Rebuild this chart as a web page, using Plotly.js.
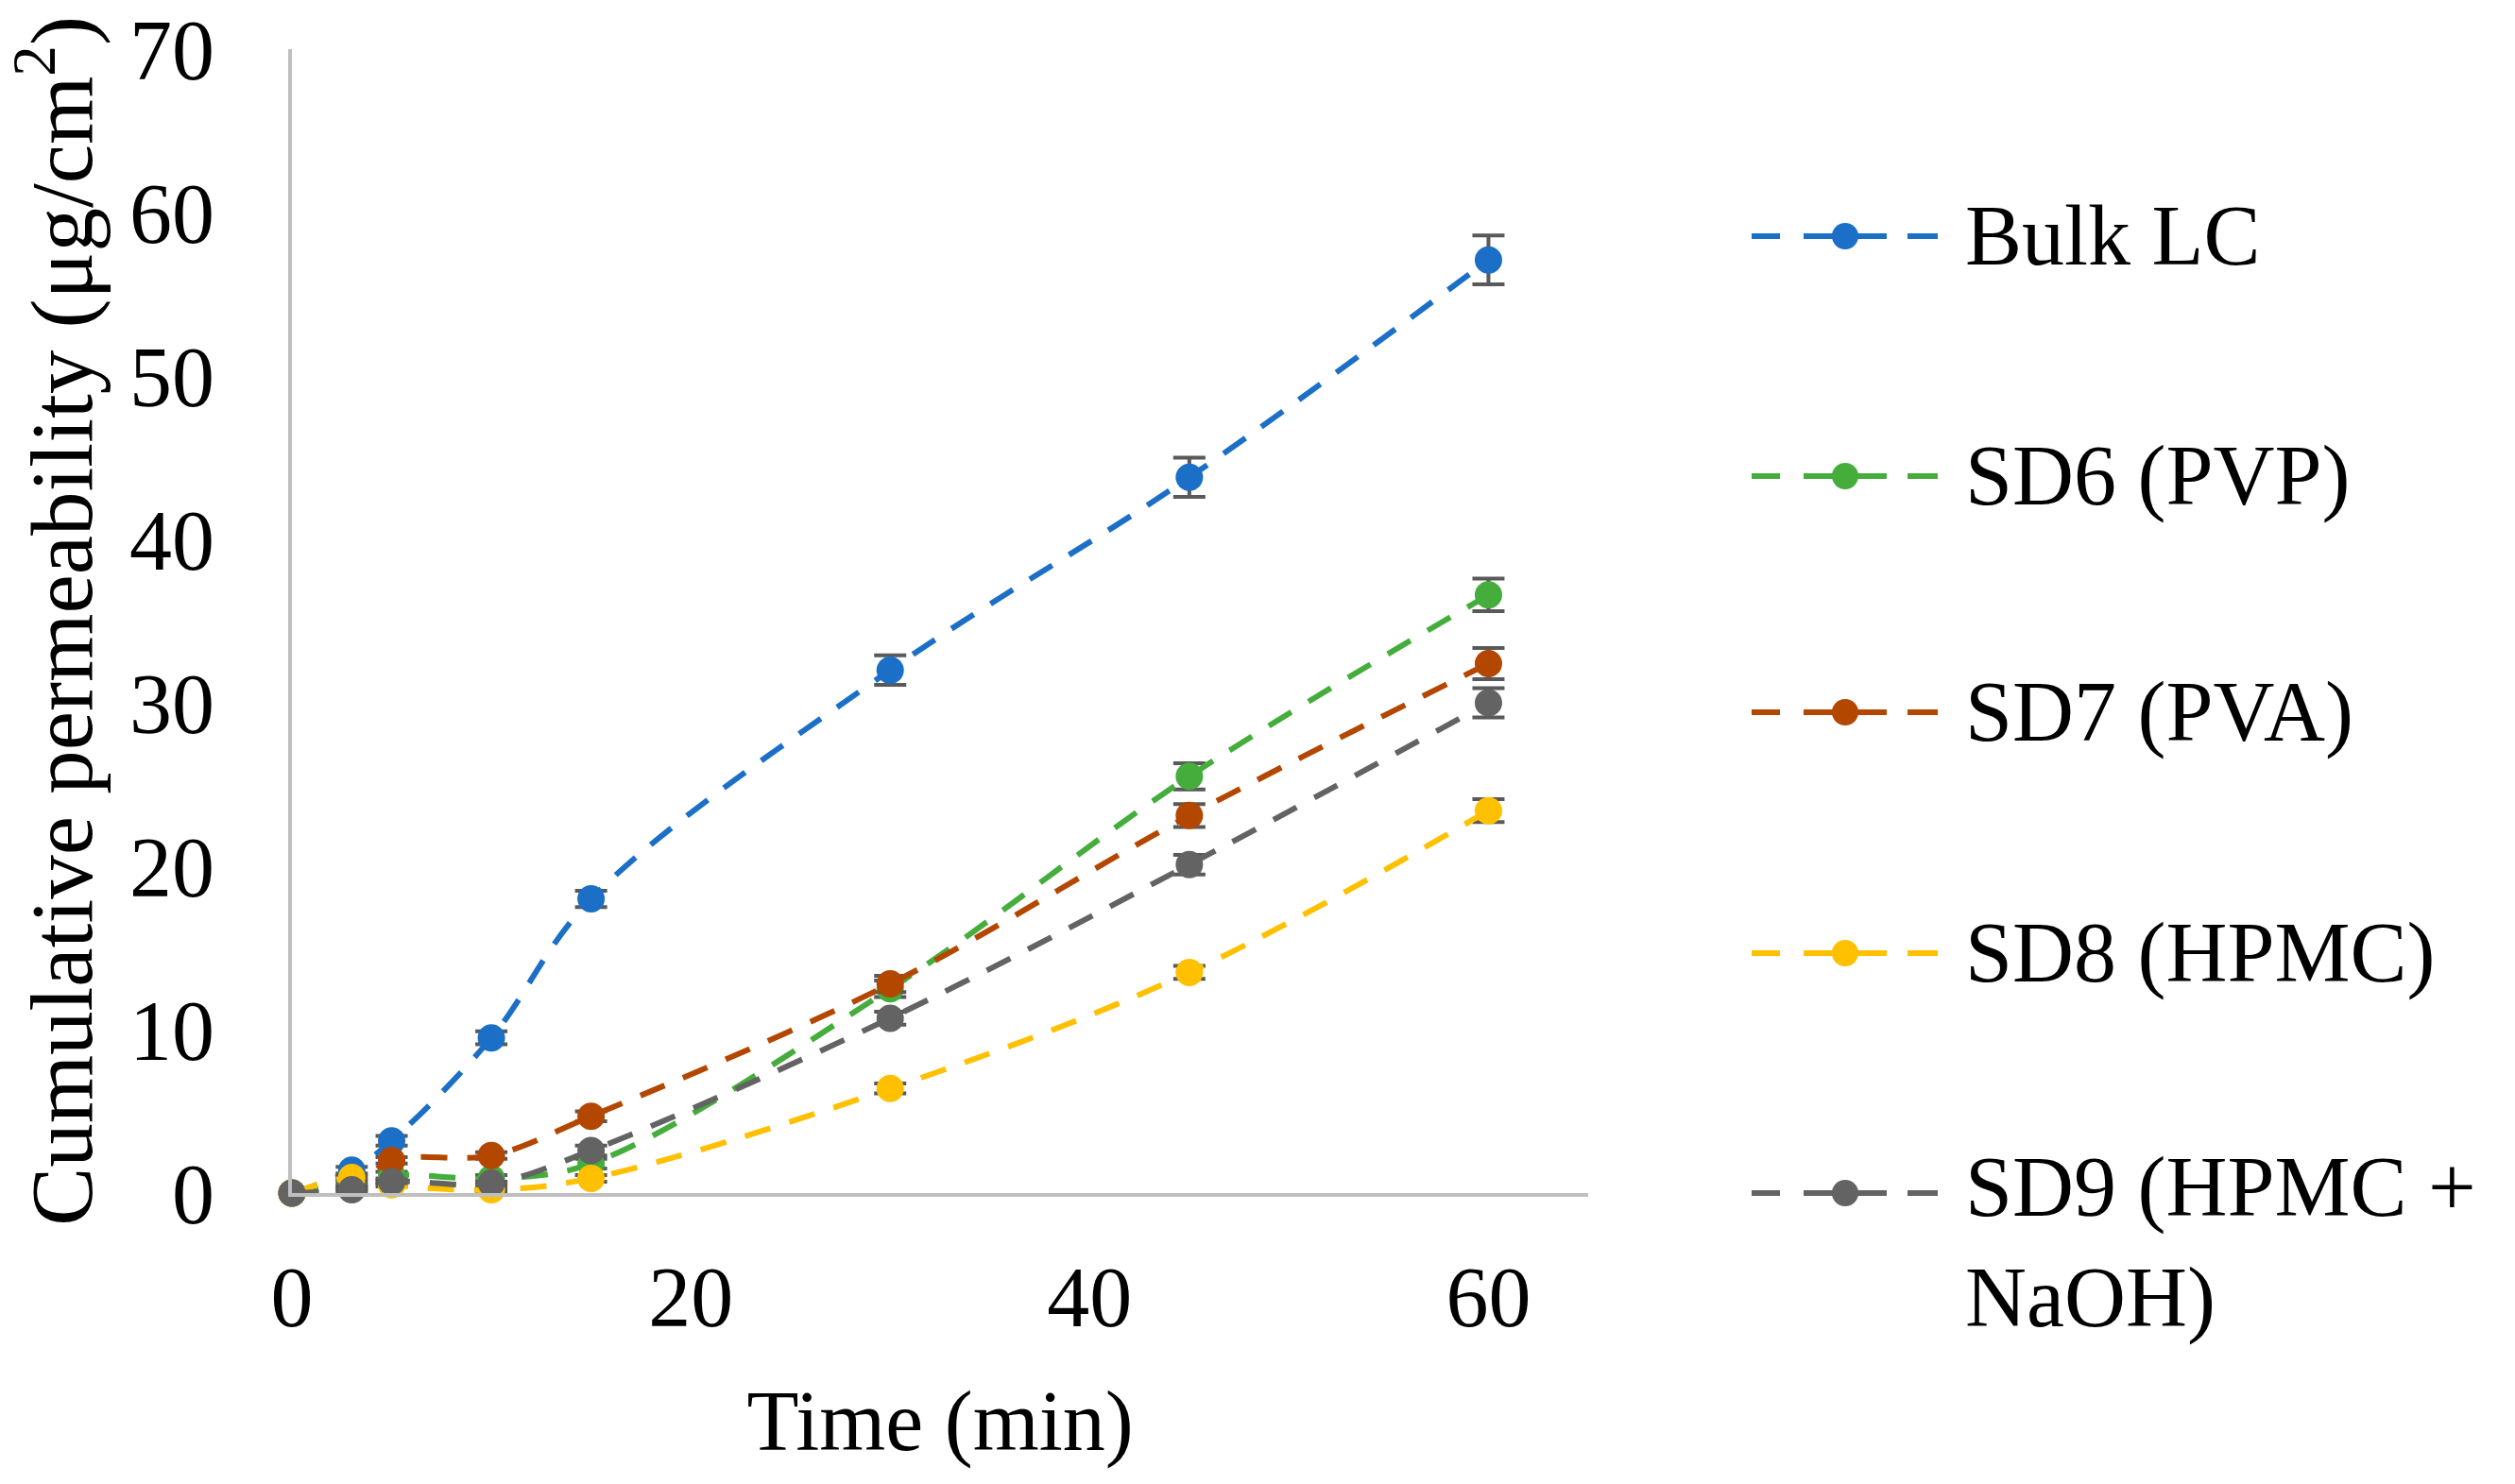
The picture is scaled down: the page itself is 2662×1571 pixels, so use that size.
<!DOCTYPE html>
<html>
<head>
<meta charset="utf-8">
<script src="https://cdn.plot.ly/plotly-3.0.1.min.js"></script>
<style>html,body{margin:0;padding:0;background:#fff;}#chart{width:2662px;height:1571px;}</style>
</head>
<body>
<div id="chart"></div>
<script>
// ---- data ----
const timeMin = [0, 3, 5, 10, 15, 30, 45, 60];
const bulkLC   = [0, 1.4, 3.2, 9.5, 18.0, 32.0, 43.8, 57.1];
const sd6PVP   = [0, 0.6, 1.1, 0.9, 1.8, 12.5, 25.5, 36.6];
const sd7PVA   = [0, 0.3, 2.0, 2.3, 4.7, 12.8, 23.1, 32.4];
const sd8HPMC  = [0, 0.95, 0.5, 0.2, 0.9, 6.4, 13.5, 23.4];
const sd9HPMCNaOH = [0, 0.2, 0.7, 0.6, 2.6, 10.7, 20.1, 30.0];

const errBulk = [0, 0.2, 0.3, 0.4, 0.5, 0.9, 1.2, 1.5];
const errSD6  = [0, 0.1, 0.2, 0.2, 0.3, 0.5, 0.8, 1.0];
const errSD7  = [0, 0.1, 0.2, 0.2, 0.3, 0.5, 0.7, 0.95];
const errSD8  = [0, 0.1, 0.1, 0.1, 0.2, 0.3, 0.4, 0.7];
const errSD9  = [0, 0.1, 0.1, 0.1, 0.3, 0.4, 0.6, 0.9];

const seriesNames = ['Bulk LC', 'SD6 (PVP)', 'SD7 (PVA)', 'SD8 (HPMC)', 'SD9 (HPMC +<br>NaOH)'];
const xTickVals = [0, 20, 40, 60];
const yTickVals = [0, 10, 20, 30, 40, 50, 60, 70];
const xTitle = 'Time (min)';
const yTitle = 'Cumulative permeability (μg/cm<sup>2</sup>)';

// ---- styling ----
const colors = ['#1B6FC6', '#44AD3C', '#B44700', '#FFC000', '#636363'];
const values = [bulkLC, sd6PVP, sd7PVA, sd8HPMC, sd9HPMCNaOH];
const errors = [errBulk, errSD6, errSD7, errSD8, errSD9];
const FONT = '"Times New Roman", "Liberation Serif", serif';
const W = 2662, H = 1571;
const M = {l: 309, r: 981, t: 52, b: 308};

const traces = values.map((v, i) => ({
  type: 'scatter', mode: 'lines+markers',
  x: timeMin, y: v, name: seriesNames[i],
  line: {color: colors[i], width: 6, dash: '28px,21px', shape: 'spline', smoothing: 1},
  marker: {color: colors[i], size: 29, symbol: 'circle'},
  error_y: {type: 'data', array: errors[i], visible: true, color: '#595959', thickness: 4, width: 17},
  cliponaxis: false, showlegend: false
}));

// ---- custom legend (paper coords from pixel positions) ----
const plotW = W - M.l - M.r, plotH = H - M.t - M.b;
const px2x = p => (p - M.l) / plotW;
const py2y = p => (H - M.b - p) / plotH;
const legendRowsPx = [250, 504, 754, 1009, 1263];
const shapes = [], annotations = [];
legendRowsPx.forEach((ry, i) => {
  const yy = py2y(ry);
  [[1854, 1884], [1909, 1997], [2019, 2051]].forEach(seg => {
    shapes.push({type: 'line', xref: 'paper', yref: 'paper', x0: px2x(seg[0]), x1: px2x(seg[1]), y0: yy, y1: yy,
      line: {color: colors[i], width: 6}});
  });
  shapes.push({type: 'circle', xref: 'paper', yref: 'paper', xsizemode: 'pixel', ysizemode: 'pixel',
    xanchor: px2x(1953), yanchor: yy, x0: -14, x1: 14, y0: -14, y1: 14,
    fillcolor: colors[i], line: {width: 0}});
  annotations.push({xref: 'paper', yref: 'paper', x: px2x(2078), y: yy, xanchor: 'left',
    yanchor: i === 4 ? 'top' : 'middle', yshift: i === 4 ? 58 : 0,
    text: seriesNames[i], showarrow: false, align: 'left',
    font: {family: FONT, size: 90, color: '#000'}});
});

const layout = {
  width: W, height: H,
  margin: M,
  paper_bgcolor: '#fff', plot_bgcolor: '#fff',
  font: {family: FONT, size: 90, color: '#000'},
  xaxis: {
    range: [0, 65], tickvals: xTickVals, ticktext: xTickVals.map(String),
    showline: true, linecolor: '#BFBFBF', linewidth: 4, showgrid: false, zeroline: false,
    ticks: 'outside', ticklen: 29, tickcolor: 'rgba(0,0,0,0)',
    tickfont: {family: FONT, size: 90, color: '#000'},
    title: {text: xTitle, font: {family: FONT, size: 90, color: '#000'}, standoff: 51},
    automargin: false, fixedrange: true
  },
  yaxis: {
    range: [0, 70], tickvals: yTickVals, ticktext: yTickVals.map(String),
    showline: true, linecolor: '#BFBFBF', linewidth: 4, showgrid: false, zeroline: false,
    ticks: 'outside', ticklen: 60, tickcolor: 'rgba(0,0,0,0)',
    tickfont: {family: FONT, size: 90, color: '#000'},
    title: {text: yTitle, font: {family: FONT, size: 93, color: '#000'}, standoff: 40},
    automargin: false, fixedrange: true
  },
  shapes: shapes,
  annotations: annotations,
  showlegend: false
};

Plotly.newPlot('chart', traces, layout, {displayModeBar: false, staticPlot: true});
</script>
</body>
</html>
